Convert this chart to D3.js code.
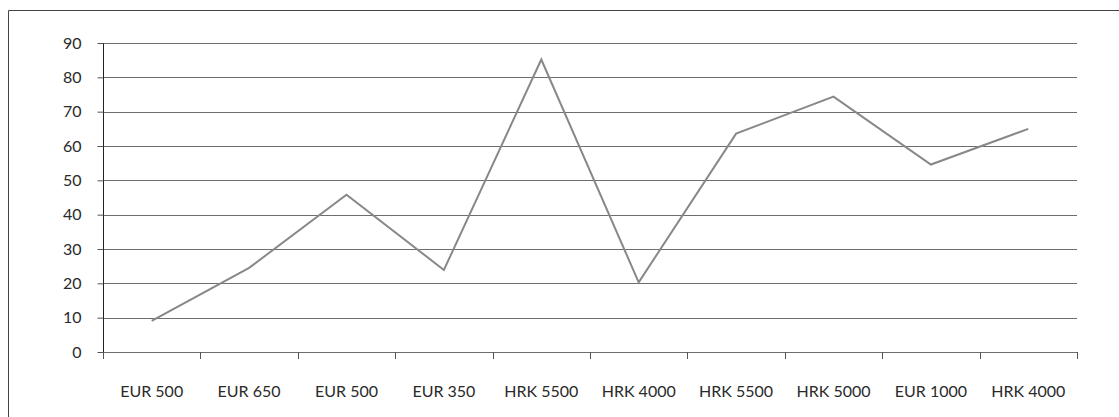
<!DOCTYPE html>
<html>
<head>
<meta charset="utf-8">
<script src="https://cdn.jsdelivr.net/npm/d3@7"></script>
<style>
  body { margin: 0; background: #fff; }
  svg { display: block; }
</style>
</head>
<body>
<svg width="1119" height="417"></svg>
<script>
// data
var categories = ["EUR 500", "EUR 650", "EUR 500", "EUR 350", "HRK 5500",
                  "HRK 4000", "HRK 5500", "HRK 5000", "EUR 1000", "HRK 4000"];
var values = [9.1, 24.5, 45.8, 23.9, 85.2, 20.3, 63.6, 74.4, 54.6, 65.0];
var yTicks = [0, 10, 20, 30, 40, 50, 60, 70, 80, 90];

var fontFam = "Lato, 'Open Sans', sans-serif";

var margin = {top: 43, right: 42, bottom: 65, left: 103},
    width = 1119 - margin.left - margin.right,
    height = 417 - margin.top - margin.bottom;

var svg = d3.select("svg");

// outer chart frame (cut by the window)
svg.append("path")
    .attr("d", "M8.5,417 V10.5 H1119")
    .attr("fill", "none")
    .attr("stroke", "#444")
    .attr("stroke-width", 1);

var g = svg.append("g")
    .attr("transform", "translate(" + margin.left + "," + margin.top + ")");

var x = d3.scaleBand()
    .domain(d3.range(categories.length))
    .range([0, width]);

var y = d3.scaleLinear()
    .domain([0, 90])
    .range([height, 0]);

// horizontal gridlines
g.append("g")
  .selectAll("line")
  .data(yTicks.slice(1))
  .enter()
  .append("line")
    .attr("x1", 0)
    .attr("x2", width)
    .attr("y1", function(d) { return Math.round(y(d)) + 0.5; })
    .attr("y2", function(d) { return Math.round(y(d)) + 0.5; })
    .attr("stroke", "#6e6e6e");

// y axis
var yAxis = g.append("g")
    .attr("transform", "translate(0.5,0)")
    .call(d3.axisLeft(y).tickValues(yTicks).tickSize(6).tickPadding(16))
    .attr("font-family", fontFam)
    .attr("font-size", 16);
yAxis.select(".domain").attr("d", "M0," + (height + 6) + "V" + y(90)).attr("stroke", "#222");
yAxis.selectAll(".tick line").attr("stroke", "#555");
yAxis.selectAll(".tick text").attr("fill", "#2a2a2a");

// x axis
var xAxis = g.append("g")
    .attr("transform", "translate(0," + (Math.round(height) + 0.5) + ")")
    .call(d3.axisBottom(x).tickSize(0).tickPadding(33).tickFormat(function(i) { return categories[i]; }))
    .attr("font-family", fontFam)
    .attr("font-size", 16);
xAxis.select(".domain").attr("d", "M0,0H" + width).attr("stroke", "#6e6e6e");
xAxis.selectAll(".tick text").attr("fill", "#2a2a2a");

// category tick marks on the boundaries
g.append("g")
  .selectAll("line")
  .data(d3.range(categories.length + 1))
  .enter()
  .append("line")
    .attr("x1", function(i) { return Math.round(i * x.step()) + 0.5; })
    .attr("x2", function(i) { return Math.round(i * x.step()) + 0.5; })
    .attr("y1", height)
    .attr("y2", height + 7)
    .attr("stroke", "#555");

// the line
var line = d3.line()
    .x(function(d, i) { return x(i) + x.bandwidth() / 2; })
    .y(function(d) { return y(d); });

g.append("path")
    .datum(values)
    .attr("d", line)
    .attr("fill", "none")
    .attr("stroke", "#888")
    .attr("stroke-width", 2);
</script>
</body>
</html>
